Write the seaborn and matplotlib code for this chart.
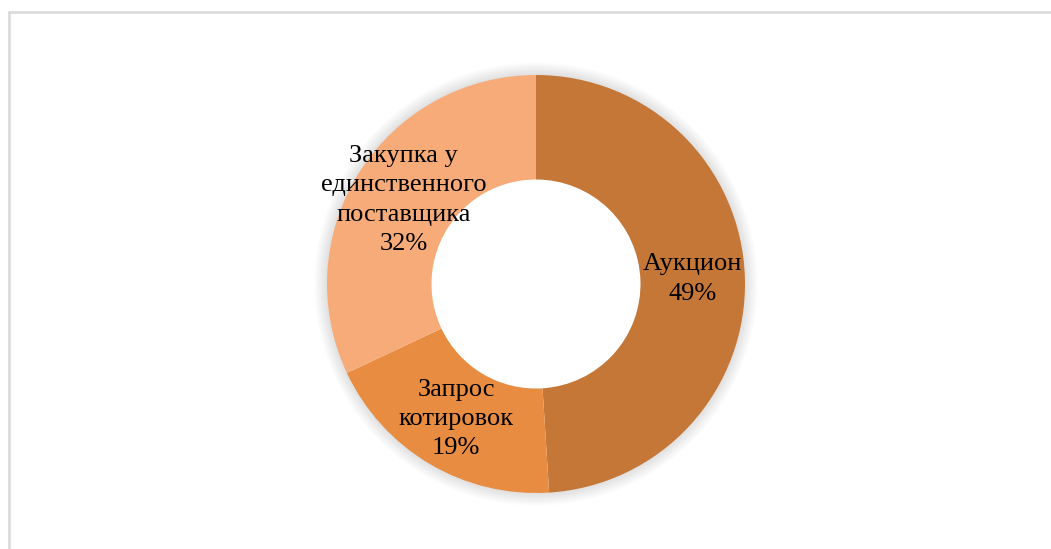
import matplotlib
matplotlib.use("Agg")
import matplotlib.pyplot as plt
from matplotlib.patches import Wedge
import seaborn as sns

# data
categories = ["Аукцион", "Запрос котировок", "Закупка у единственного поставщика"]
wrapped = ["Аукцион", "Запрос\nкотировок", "Закупка у\nединственного\nпоставщика"]
shares = [49, 19, 32]
colors = ["#C47736", "#E88C42", "#F6AB79"]

sns.set_theme(style="white")
plt.rcParams['font.family'] = ['Liberation Serif', 'DejaVu Serif']
palette = sns.color_palette(colors)

fig = plt.figure(figsize=(10.51, 5.49), dpi=100)
fig.patch.set_facecolor("white")

# light frame (left and top only visible)
fig.add_artist(plt.Line2D([9 / 1051, 9 / 1051], [0, 1 - 12 / 549], color="#D9D9D9", lw=1.8))
fig.add_artist(plt.Line2D([9 / 1051, 1], [1 - 12 / 549, 1 - 12 / 549], color="#D9D9D9", lw=1.8))

ax = fig.add_axes([(536 - 209) / 1051, (265 - 209) / 549, 418 / 1051, 418 / 549])
ax.axis("off")

# soft shadow around the outer edge of the ring
for i in range(10):
    ax.add_patch(Wedge((0, 0), 1.0 + 0.006 * (i + 1), 0, 360, width=0.006 * (i + 1) + 0.02,
                       color="black", alpha=0.012, lw=0, zorder=0, clip_on=False))

labels_iter = iter(wrapped)
wedges, texts, autotexts = ax.pie(
    shares,
    colors=palette,
    startangle=90,
    counterclock=False,
    radius=1.0,
    wedgeprops=dict(width=0.5, edgecolor="none"),
    autopct=lambda p: f"{next(labels_iter)}\n{p:.0f}%",
    pctdistance=0.75,
    textprops=dict(fontsize=19, color="black", ha="center", va="center"),
)
for w in wedges:
    w.set_zorder(2)
for t in autotexts:
    t.set_linespacing(1.43)

ax.set_xlim(-1, 1)
ax.set_ylim(-1, 1)
ax.set_aspect("equal")

fig.savefig("out.png", dpi=100, facecolor="white")
